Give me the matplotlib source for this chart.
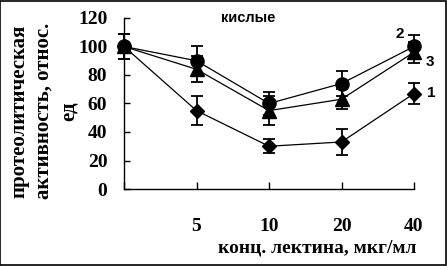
import matplotlib
matplotlib.use("Agg")
import matplotlib.pyplot as plt
from matplotlib.patches import Rectangle

categories = ["", "5", "10", "20", "40"]
s1 = [100, 55, 30, 33, 67]
s1_err = [8.5, 10, 5, 9, 7.5]
s2 = [100, 90, 60, 74, 100]
s2_err = [8.5, 10, 8, 9, 8]
s3 = [100, 84, 55, 63, 96]
s3_err = [8.5, 9, 10, 7, 7.5]
yticks = [0, 20, 40, 60, 80, 100, 120]

fig = plt.figure(figsize=(4.47, 2.66), dpi=100)
ax = fig.add_axes([124/447, 1-189/266, (414-124)/447, (189-18)/266])
x = list(range(len(categories)))

serif = "Liberation Serif"
sans = "Liberation Sans"

for y, e, m, ms in [(s2, s2_err, "o", 9.5), (s3, s3_err, "^", 9.5), (s1, s1_err, "D", 7)]:
    ax.errorbar(x, y, yerr=e, color="black", marker=m, markersize=ms,
                linewidth=0.9, elinewidth=1.3, capsize=4, capthick=1.3,
                clip_on=False, zorder=3)

ax.set_xlim(0, 4)
ax.set_ylim(0, 120)
ax.set_yticks(yticks)
ax.set_xticks(x)
ax.set_xticklabels(categories)
for s in ["top", "right"]:
    ax.spines[s].set_visible(False)
for s in ["left", "bottom"]:
    ax.spines[s].set_linewidth(1.0)
ax.tick_params(axis="y", direction="in", length=4, width=1, pad=12)
ax.tick_params(axis="x", direction="in", length=5, width=1, pad=21)
for lab in ax.get_yticklabels() + ax.get_xticklabels():
    lab.set_fontfamily(serif)
    lab.set_fontweight("bold")
    lab.set_fontsize(14)

ax.set_xlabel("конц. лектина, мкг/мл", fontfamily=serif, fontweight="bold", fontsize=14)
ax.xaxis.set_label_coords((317-124)/290, -(248-189)/171, transform=ax.transAxes)
ax.xaxis.label.set_va("center")

fig.text(44/447, 1-111/266, "протеолитическая\nактивность, относ.\nед",
         rotation=90, ha="center", va="center", multialignment="center",
         fontfamily=serif, fontweight="bold", fontsize=15, linespacing=1.33)

fig.text(248/447, 1-18/266, "кислые", ha="center", va="center",
         fontfamily=sans, fontweight="bold", fontsize=10.5)
fig.text(400/447, 1-34/266, "2", ha="center", va="center", fontfamily=sans, fontweight="bold", fontsize=11)
fig.text(430/447, 1-62/266, "3", ha="center", va="center", fontfamily=sans, fontweight="bold", fontsize=11)
fig.text(431/447, 1-93/266, "1", ha="center", va="center", fontfamily=sans, fontweight="bold", fontsize=11)

fig.patches.append(Rectangle((0.001, 0.002), 0.997, 0.995, transform=fig.transFigure,
                             fill=False, edgecolor="black", linewidth=1.2))

fig.savefig("out.png", dpi=100)
